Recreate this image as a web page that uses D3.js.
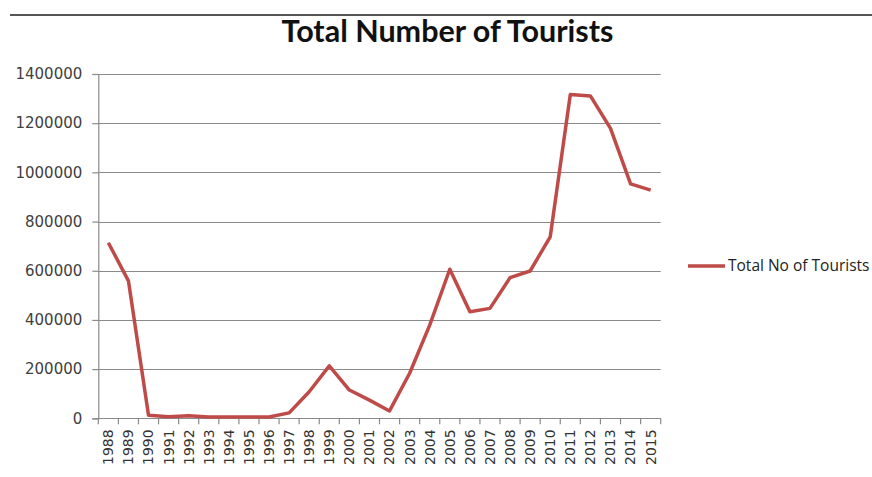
<!DOCTYPE html>
<html>
<head>
<meta charset="utf-8">
<script src="https://cdn.jsdelivr.net/npm/d3@7"></script>
<style>
  html, body { margin: 0; padding: 0; background: #ffffff; }
  svg { display: block; }
</style>
</head>
<body>
<svg id="chart" width="872" height="477"></svg>
<script>
// Yearly tourist arrivals
const years = ["1988","1989","1990","1991","1992","1993","1994","1995","1996","1997",
  "1998","1999","2000","2001","2002","2003","2004","2005","2006","2007",
  "2008","2009","2010","2011","2012","2013","2014","2015"];
const tourists = [714000, 559000, 12000, 6000, 10000, 5000, 5000, 5000, 5000, 22000,
  108000, 213000, 115000, 74000, 30000, 183000, 379000, 606000, 433000, 447000,
  572000, 599000, 738000, 1317000, 1311000, 1179000, 953000, 928000];
const yTicks = [0, 200000, 400000, 600000, 800000, 1000000, 1200000, 1400000];
const seriesName = "Total No of Tourists";
const chartTitle = "Total Number of Tourists";

const svg = d3.select("#chart");
const margin = { left: 98.3, right: 660.7, top: 74, bottom: 418.3 };
const lineColor = "#be4b48";

const x = d3.scaleBand().domain(years).range([margin.left, margin.right]).padding(0);
const y = d3.scaleLinear().domain([0, 1400000]).range([margin.bottom, margin.top]);

// Top rule
svg.append("line")
  .attr("x1", 10).attr("x2", 872).attr("y1", 15).attr("y2", 15)
  .attr("stroke", "#555").attr("stroke-width", 2);

// Title
svg.append("text")
  .attr("x", 447.5).attr("y", 41.5)
  .attr("text-anchor", "middle")
  .attr("font-family", "Lato, 'Open Sans', sans-serif")
  .attr("font-weight", "bold")
  .attr("font-size", 30.5)
  .attr("fill", "#111")
  .text(chartTitle);

// Horizontal gridlines
svg.append("g").selectAll("line").data(yTicks).join("line")
  .attr("x1", margin.left).attr("x2", margin.right)
  .attr("y1", d => Math.round(y(d)) + 0.5).attr("y2", d => Math.round(y(d)) + 0.5)
  .attr("stroke", "#8a8a8a").attr("stroke-width", 1.2);

// Y axis
const yAxis = svg.append("g")
  .attr("transform", `translate(${margin.left},0)`)
  .call(d3.axisLeft(y).tickValues(yTicks).tickSize(6).tickPadding(10).tickFormat(d3.format("d")));
yAxis.select(".domain").attr("stroke", "#8a8a8a").attr("stroke-width", 1.2);
yAxis.selectAll(".tick line").attr("stroke", "#8a8a8a").attr("stroke-width", 1.2);
yAxis.selectAll(".tick text")
  .attr("font-family", "'DejaVu Sans', sans-serif")
  .attr("font-size", 15)
  .attr("fill", "#404040");

// X axis labels (rotated), ticks between categories
const xAxis = svg.append("g")
  .attr("transform", `translate(0,${margin.bottom})`)
  .call(d3.axisBottom(x).tickSize(0).tickPadding(0));
xAxis.select(".domain").remove();
xAxis.selectAll(".tick text")
  .attr("font-family", "'DejaVu Sans', sans-serif")
  .attr("font-size", 14)
  .attr("fill", "#333")
  .attr("text-anchor", "end")
  .attr("dy", "0.35em")
  .attr("transform", "translate(0,11) rotate(-90)")
  .attr("x", 0).attr("y", 0);

const boundaries = years.map(d => x(d)).concat([x.range()[1]]);
svg.append("g").selectAll("line").data(boundaries).join("line")
  .attr("x1", d => d).attr("x2", d => d)
  .attr("y1", margin.bottom).attr("y2", margin.bottom + 6)
  .attr("stroke", "#8a8a8a").attr("stroke-width", 1.2);

// Series line
const line = d3.line()
  .x((d, i) => x(years[i]) + x.bandwidth() / 2)
  .y(d => y(d));
svg.append("path")
  .datum(tourists)
  .attr("d", line)
  .attr("fill", "none")
  .attr("stroke", lineColor)
  .attr("stroke-width", 3.5)
  .attr("stroke-linejoin", "round");

// Legend
const legend = svg.append("g").attr("transform", "translate(688,266)");
legend.append("line")
  .attr("x1", 0).attr("x2", 37).attr("y1", 0).attr("y2", 0)
  .attr("stroke", lineColor).attr("stroke-width", 3.5);
legend.append("text")
  .attr("x", 40).attr("y", 0).attr("dy", "0.35em")
  .attr("font-family", "'Open Sans', sans-serif")
  .attr("font-size", 15.5)
  .attr("fill", "#222")
  .text(seriesName);
</script>
</body>
</html>
